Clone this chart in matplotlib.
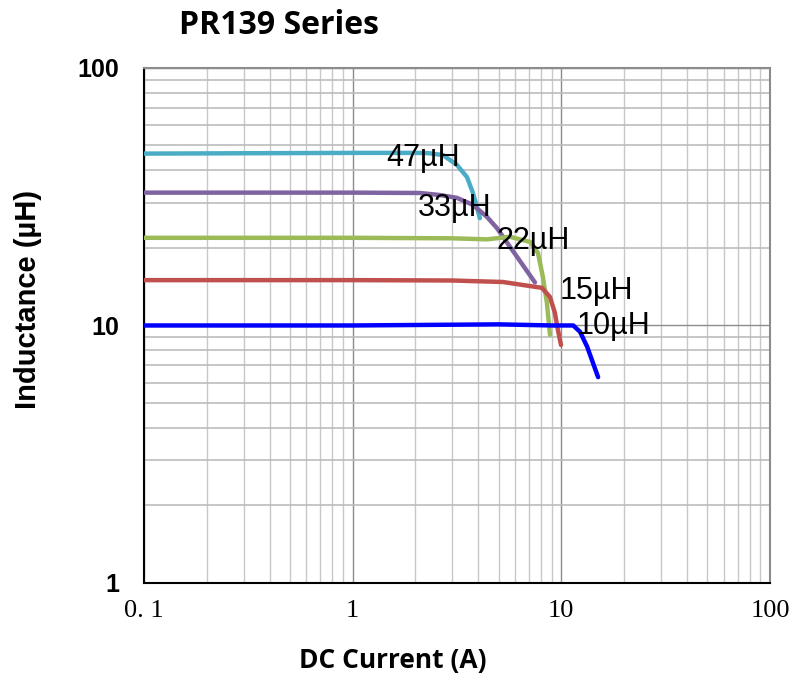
"""PR139 series: inductance vs DC current, log-log."""

import matplotlib
matplotlib.use("Agg")
import matplotlib.pyplot as plt
from matplotlib.ticker import LogLocator, NullFormatter, FixedLocator

# values (A, uH)
i_47 = [0.1, 1.0, 2.0, 2.3, 2.71, 3.16, 3.53, 3.77, 3.94, 4.07]
l_47 = [46.5, 46.8, 46.8, 46.7, 45.9, 42.0, 37.7, 32.7, 28.8, 26.1]

i_33 = [0.1, 1.0, 2.1, 2.62, 3.16, 3.77, 4.40, 4.91, 7.47]
l_33 = [32.8, 32.8, 32.7, 32.1, 31.3, 29.4, 26.4, 23.9, 14.7]

i_22 = [0.1, 1.0, 3.0, 4.4, 5.68, 7.08, 7.73, 8.16, 8.53, 8.82]
l_22 = [21.9, 21.9, 21.8, 21.6, 22.1, 21.1, 19.1, 15.4, 12.2, 9.2]

i_15 = [0.1, 1.0, 3.0, 5.25, 8.07, 8.82, 9.31, 9.63, 9.96]
l_15 = [15.0, 15.0, 14.95, 14.75, 14.0, 12.9, 11.2, 9.6, 8.4]

i_10 = [0.1, 1.0, 5.0, 9.0, 11.4, 12.3, 13.3, 15.0]
l_10 = [10.0, 10.0, 10.1, 10.0, 10.0, 9.44, 8.26, 6.3]

series = [
    (i_47, l_47, "#4BACC6", "47µH", 1.45, 44.7),
    (i_33, l_33, "#8064A2", "33µH", 2.06, 28.6),
    (i_22, l_22, "#9BBB59", "22µH", 4.9, 21.3),
    (i_15, l_15, "#C0504D", "15µH", 9.84, 13.6),
    (i_10, l_10, "#0000FF", "10µH", 11.9, 9.95),
]

fig = plt.figure(figsize=(7.9, 6.77), dpi=100)
ax = fig.add_axes([0.1823, 0.1389, 0.7924, 0.7607])

for xs, ys, col, lbl, tx, ty in series:
    ax.plot(xs, ys, color=col, lw=3.2, solid_capstyle="round",
            solid_joinstyle="round", zorder=3)
    ax.text(tx, ty, lbl, fontsize=22, family="Liberation Sans", color="black",
            ha="left", va="center", zorder=4)

ax.set_xscale("log")
ax.set_yscale("log")
ax.set_xlim(0.1, 100)
ax.set_ylim(1, 100)

ax.xaxis.set_major_locator(FixedLocator([0.1, 1, 10, 100]))
ax.xaxis.set_minor_locator(LogLocator(base=10, subs=range(2, 10)))
ax.yaxis.set_major_locator(FixedLocator([1, 10, 100]))
ax.yaxis.set_minor_locator(LogLocator(base=10, subs=range(2, 10)))
ax.xaxis.set_minor_formatter(NullFormatter())
ax.yaxis.set_minor_formatter(NullFormatter())
ax.set_xticklabels(["0. 1", "1", "10", "100"], family="Liberation Serif", fontsize=19)
ax.set_yticklabels(["1", "10", "100"], family="Liberation Sans", fontsize=18,
                   fontweight="bold")
ax.tick_params(which="both", length=0)
ax.tick_params(axis="x", pad=12)
ax.tick_params(axis="y", pad=18)

ax.grid(True, which="major", color="#8c8c8c", lw=1.0)
ax.grid(True, which="minor", axis="x", color="#c8c8c8", lw=1.0)
ax.grid(True, which="minor", axis="y", color="#bcbcbc", lw=1.2)

for side in ("left", "bottom"):
    ax.spines[side].set_color("black")
    ax.spines[side].set_linewidth(1.5)
for side in ("top", "right"):
    ax.spines[side].set_color("#8c8c8c")
    ax.spines[side].set_linewidth(1.5)

fig.text(0.353, 0.963, "PR139 Series", family="Open Sans", fontweight="bold",
         fontsize=23, ha="center", va="center")
fig.text(0.497, 0.025, "DC Current (A)", family="Open Sans", fontweight="bold",
         fontsize=19, ha="center", va="center")
fig.text(0.035, 0.558, "Inductance (µH)", family="Liberation Sans",
         fontweight="bold", fontsize=21, rotation=90, ha="center", va="center")

fig.savefig("out.png", dpi=100)
